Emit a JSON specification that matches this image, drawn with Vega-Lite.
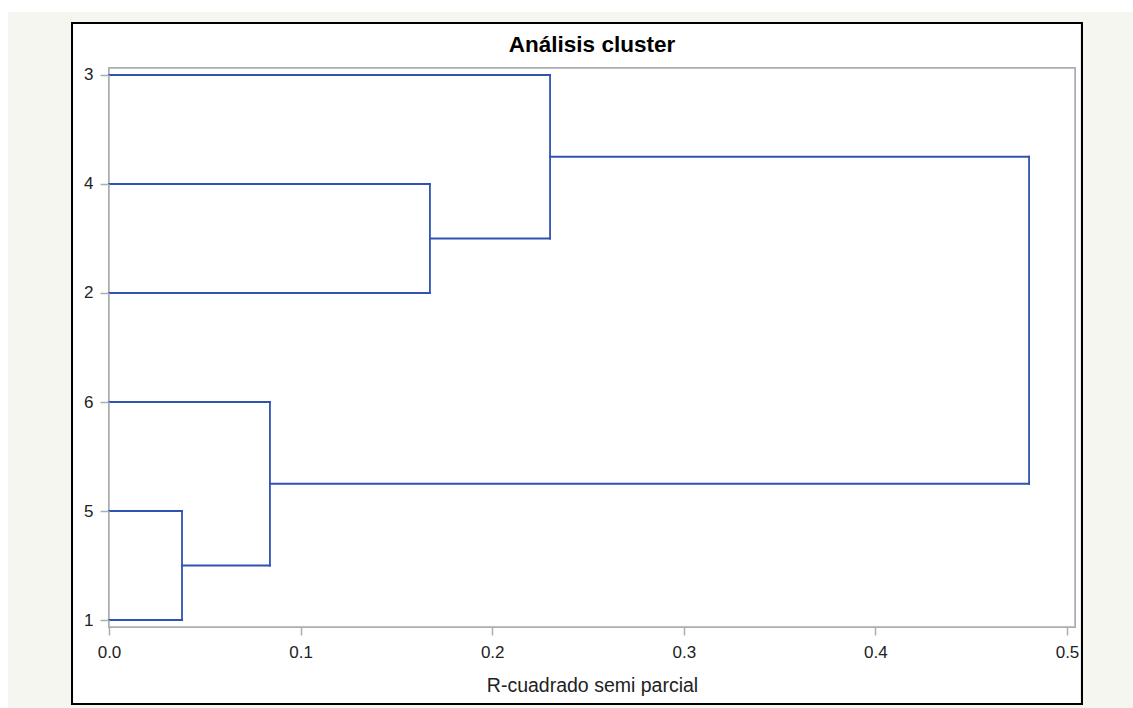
{
  "$schema": "https://vega.github.io/schema/vega-lite/v6.json",
  "width": 966,
  "height": 559,
  "autosize": {"type": "none"},
  "padding": {"left": 109, "top": 68, "right": 58, "bottom": 81},
  "background": "white",
  "config": {"view": {"stroke": null}, "font": "Liberation Sans"},
  "title": {"text": "Análisis cluster", "font": "Liberation Sans", "fontSize": 22.5, "fontWeight": "bold", "color": "black", "anchor": "middle", "baseline": "alphabetic", "offset": -63, "zindex": 1},
  "data": {"values": [
    {"x1": 0, "x2": 0.2302, "y1": 0, "y2": 0},
    {"x1": 0, "x2": 0.1675, "y1": 1, "y2": 1},
    {"x1": 0, "x2": 0.1675, "y1": 2, "y2": 2},
    {"x1": 0, "x2": 0.084, "y1": 3, "y2": 3},
    {"x1": 0, "x2": 0.0381, "y1": 4, "y2": 4},
    {"x1": 0, "x2": 0.0381, "y1": 5, "y2": 5},
    {"x1": 0.0381, "x2": 0.084, "y1": 4.5, "y2": 4.5},
    {"x1": 0.1675, "x2": 0.2302, "y1": 1.5, "y2": 1.5},
    {"x1": 0.2302, "x2": 0.4802, "y1": 0.75, "y2": 0.75},
    {"x1": 0.084, "x2": 0.4802, "y1": 3.75, "y2": 3.75},
    {"x1": 0.0381, "x2": 0.0381, "y1": 4, "y2": 5},
    {"x1": 0.084, "x2": 0.084, "y1": 3, "y2": 4.5},
    {"x1": 0.1675, "x2": 0.1675, "y1": 1, "y2": 2},
    {"x1": 0.2302, "x2": 0.2302, "y1": 0, "y2": 1.5},
    {"x1": 0.4802, "x2": 0.4802, "y1": 0.75, "y2": 3.75}
  ]},
  "layer": [
    {
      "mark": {"type": "rect", "fill": "#f4f6ef", "strokeWidth": 0},
      "encoding": {
        "x": {"datum": -0.0527, "type": "quantitative", "title": "R-cuadrado semi parcial", "scale": {"domain": [0, 0.50418], "nice": false, "zero": false}},
        "x2": {"datum": 0.5345},
        "y": {"datum": -0.578, "type": "quantitative", "title": null, "scale": {"domain": [-0.0642, 5.0642], "nice": false, "zero": false, "reverse": true}},
        "y2": {"datum": 5.807}
      }
    },
    {
      "mark": {"type": "rect", "fill": "white", "stroke": "black", "strokeWidth": 2},
      "encoding": {
        "x": {"datum": -0.0193, "type": "quantitative", "title": "R-cuadrado semi parcial", "scale": {"domain": [0, 0.50418], "nice": false, "zero": false}},
        "x2": {"datum": 0.5078},
        "y": {"datum": -0.477, "type": "quantitative", "title": null, "scale": {"domain": [-0.0642, 5.0642], "nice": false, "zero": false, "reverse": true}},
        "y2": {"datum": 5.771}
      }
    },
    {
      "mark": {"type": "rect", "fill": "white", "stroke": "#aaaeb2", "strokeWidth": 1.5},
      "encoding": {
        "x": {"datum": 0, "type": "quantitative", "title": "R-cuadrado semi parcial", "scale": {"domain": [0, 0.50418], "nice": false, "zero": false}},
        "x2": {"datum": 0.50418},
        "y": {"datum": -0.0642, "type": "quantitative", "title": null, "scale": {"domain": [-0.0642, 5.0642], "nice": false, "zero": false, "reverse": true}},
        "y2": {"datum": 5.0642}
      }
    },
    {
      "mark": {"type": "rule", "color": "#3052b2", "strokeWidth": 1.8, "strokeCap": "square"},
      "encoding": {
        "x": {"field": "x1", "type": "quantitative", "title": "R-cuadrado semi parcial",
              "scale": {"domain": [0, 0.50418], "nice": false, "zero": false},
              "axis": {"values": [0, 0.1, 0.2, 0.3, 0.4, 0.5], "format": ".1f", "domain": false, "grid": false, "ticks": true, "tickSize": 8, "tickColor": "#aaaeb2", "tickWidth": 1.5, "labelFontSize": 17, "labelColor": "#222222", "labelPadding": 9, "labelFont": "Liberation Sans", "titleFont": "Liberation Sans", "titleFontSize": 19.5, "titleFontWeight": "normal", "titleColor": "#222222", "titlePadding": 16, "zindex": 1, "labelFlush": false}},
        "x2": {"field": "x2"},
        "y": {"field": "y1", "type": "quantitative", "title": null,
              "scale": {"domain": [-0.0642, 5.0642], "nice": false, "zero": false, "reverse": true},
              "axis": {"values": [0, 1, 2, 3, 4, 5], "labelExpr": "datum.value == 0 ? '3' : datum.value == 1 ? '4' : datum.value == 2 ? '2' : datum.value == 3 ? '6' : datum.value == 4 ? '5' : '1'", "domain": false, "grid": false, "tickSize": 9, "tickColor": "#aaaeb2", "tickWidth": 1.5, "labelFontSize": 17, "labelColor": "#222222", "labelPadding": 7, "labelFont": "Liberation Sans", "zindex": 1, "labelFlush": false}},
        "y2": {"field": "y2"}
      }
    }
  ]
}
